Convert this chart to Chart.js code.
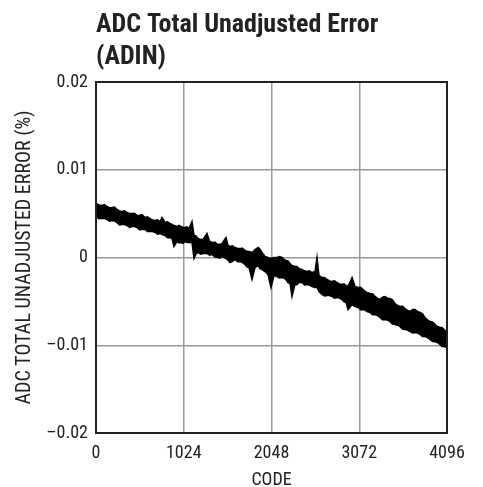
<!DOCTYPE html>
<html>
<head>
<meta charset="utf-8">
<script src="https://cdn.jsdelivr.net/npm/chart.js@4.4.1/dist/chart.umd.min.js"></script>
<style>
  html, body { margin: 0; padding: 0; background: #fff; }
  #wrap { position: relative; width: 483px; height: 487px; }
</style>
</head>
<body>
<div id="wrap"><canvas id="tueChart" width="483" height="487"></canvas></div>
<script>
const codes = [
  0, 35, 70, 99, 128, 158, 187, 216, 245, 274,
  303, 333, 362, 391, 420, 449, 478, 508, 537, 572,
  601, 630, 660, 689, 718, 747, 770, 805, 835, 864,
  887, 910, 945, 968, 992, 1015, 1039, 1062, 1085, 1120,
  1144, 1167, 1190, 1220, 1249, 1295, 1325, 1354, 1389, 1424,
  1447, 1470, 1517, 1540, 1564, 1593, 1622, 1651, 1680, 1710,
  1739, 1762, 1786, 1821, 1856, 1891, 1914, 1937, 1972, 2007,
  2042, 2077, 2112, 2141, 2171, 2194, 2217, 2240, 2264, 2287,
  2322, 2345, 2369, 2404, 2433, 2462, 2491, 2521, 2556, 2579,
  2602, 2637, 2666, 2696, 2725, 2754, 2783, 2812, 2841, 2871,
  2894, 2918, 2941, 2988, 3023, 3058, 3087, 3116, 3140, 3163,
  3198, 3227, 3256, 3285, 3314, 3343, 3373, 3402, 3431, 3460,
  3489, 3518, 3548, 3577, 3606, 3635, 3664, 3693, 3723, 3752,
  3781, 3810, 3839, 3868, 3898, 3927, 3956, 3985, 4014, 4037,
  4061, 4096
];
// upper edge of the error trace (%)
const errorHigh = [
  0.00615, 0.00599, 0.00593, 0.00602, 0.00581, 0.00568, 0.00570, 0.00574, 0.00547, 0.00530,
  0.00524, 0.00533, 0.00513, 0.00502, 0.00501, 0.00505, 0.00479, 0.00481, 0.00490, 0.00456,
  0.00464, 0.00444, 0.00427, 0.00422, 0.00430, 0.00410, 0.00456, 0.00399, 0.00406, 0.00387,
  0.00376, 0.00365, 0.00353, 0.00367, 0.00353, 0.00343, 0.00342, 0.00350, 0.00330, 0.00410,
  0.00251, 0.00246, 0.00217, 0.00205, 0.00205, 0.00274, 0.00185, 0.00171, 0.00174, 0.00148,
  0.00150, 0.00160, 0.00228, 0.00140, 0.00125, 0.00134, 0.00114, 0.00103, 0.00103, 0.00105,
  0.00080, 0.00070, 0.00068, 0.00057, 0.00091, 0.00114, 0.00095, 0.00057, 0.00011, 0,
  -0.00011, 0, 0, 0.00012, 0, -0.00022, -0.00034, -0.00038, -0.00068, -0.00091,
  -0.00103, -0.00102, -0.00125, -0.00137, -0.00152, -0.00160, -0.00151, -0.00171, -0.00160, 0,
  -0.00205, -0.00228, -0.00227, -0.00251, -0.00267, -0.00274, -0.00266, -0.00285, -0.00301, -0.00308,
  -0.00300, -0.00319, -0.00330, -0.00228, -0.00330, -0.00342, -0.00340, -0.00365, -0.00386, -0.00399,
  -0.00410, -0.00413, -0.00444, -0.00465, -0.00479, -0.00451, -0.00444, -0.00463, -0.00467, -0.00482,
  -0.00524, -0.00545, -0.00558, -0.00557, -0.00581, -0.00603, -0.00615, -0.00592, -0.00593, -0.00616,
  -0.00627, -0.00642, -0.00684, -0.00710, -0.00729, -0.00734, -0.00764, -0.00786, -0.00798, -0.00797,
  -0.00821, -0.00855
];
// lower edge of the error trace (%)
const errorLow = [
  0.00467, 0.00441, 0.00444, 0.00444, 0.00433, 0.00413, 0.00422, 0.00415, 0.00399, 0.00372,
  0.00376, 0.00376, 0.00365, 0.00343, 0.00353, 0.00352, 0.00342, 0.00316, 0.00319, 0.00319,
  0.00296, 0.00296, 0.00296, 0.00285, 0.00265, 0.00274, 0.00262, 0.00251, 0.00226, 0.00228,
  0.00215, 0.00125, 0.00182, 0.00165, 0.00171, 0.00160, 0.00182, 0.00172, 0.00171, 0.00171,
  -0.00011, 0.00040, 0.00057, 0.00037, 0.00046, 0.00046, 0.00026, 0.00034, 0.00005, 0,
  -0.00008, 0.00011, -0.00011, -0.00029, -0.00057, -0.00045, -0.00023, -0.00048, -0.00046, -0.00058,
  -0.00080, -0.00110, -0.00114, -0.00251, -0.00114, -0.00091, -0.00126, -0.00137, -0.00160, -0.00194,
  -0.00342, -0.00205, -0.00217, -0.00234, -0.00228, -0.00235, -0.00251, -0.00286, -0.00296, -0.00444,
  -0.00308, -0.00310, -0.00285, -0.00285, -0.00312, -0.00308, -0.00314, -0.00330, -0.00342, -0.00342,
  -0.00387, -0.00422, -0.00439, -0.00433, -0.00434, -0.00444, -0.00463, -0.00456, -0.00463, -0.00479,
  -0.00506, -0.00513, -0.00593, -0.00536, -0.00558, -0.00570, -0.00594, -0.00593, -0.00599, -0.00615,
  -0.00627, -0.00651, -0.00650, -0.00662, -0.00684, -0.00709, -0.00707, -0.00714, -0.00729, -0.00759,
  -0.00764, -0.00771, -0.00786, -0.00816, -0.00821, -0.00827, -0.00843, -0.00861, -0.00855, -0.00861,
  -0.00877, -0.00901, -0.00900, -0.00913, -0.00934, -0.00957, -0.00957, -0.00970, -0.00991, -0.01014,
  -0.01014, -0.01026
];
const xTicks = [0, 1024, 2048, 3072, 4096];
const yTicks = [-0.02, -0.01, 0, 0.01, 0.02];

const narrow = '"Liberation Sans Narrow", "Arial Narrow", "Roboto Condensed", sans-serif';

function fmtY(v) {
  if (Math.abs(v) < 1e-9) return '0';
  const s = Math.abs(v).toFixed(2);
  return v < 0 ? '\u2013' + s : s;
}

function initChart() {
  const ctx = document.getElementById('tueChart');
  if (!ctx) return;

  Chart.defaults.font.family = narrow;
  Chart.defaults.color = '#222';

  new Chart(ctx.getContext('2d'), {
    type: 'line',
    data: {
      datasets: [
        {
          data: codes.map((c, i) => ({ x: c, y: errorHigh[i] })),
          borderColor: '#000', backgroundColor: '#000', borderWidth: 1.5,
          pointRadius: 0, tension: 0, fill: '+1'
        },
        {
          data: codes.map((c, i) => ({ x: c, y: errorLow[i] })),
          borderColor: '#000', borderWidth: 1.5,
          pointRadius: 0, tension: 0, fill: false
        }
      ]
    },
    options: {
      responsive: false,
      animation: false,
      layout: { padding: { left: 0, right: 36, top: 0, bottom: 0 } },
      plugins: {
        legend: { display: false },
        tooltip: { enabled: false },
        title: {
          display: true,
          text: ['ADC Total Unadjusted Error', '(ADIN)'],
          align: 'start',
          fullSize: false,
          color: '#222',
          font: { family: narrow, size: 26, weight: 'bold', lineHeight: 1.25 },
          padding: { top: 9, bottom: 8 }
        }
      },
      scales: {
        x: {
          type: 'linear', min: 0, max: 4096,
          afterBuildTicks: s => { s.ticks = xTicks.map(v => ({ value: v })); },
          afterFit: s => { s.height = 54; },
          grid: { color: '#999', lineWidth: 1.5, drawTicks: false },
          border: { color: '#222', width: 2 },
          ticks: { font: { size: 18 }, padding: 10, maxRotation: 0, callback: v => String(v) },
          title: { display: true, text: 'CODE', font: { size: 18 }, padding: { top: 0, bottom: -4 } }
        },
        y: {
          type: 'linear', min: -0.02, max: 0.02,
          afterBuildTicks: s => { s.ticks = yTicks.map(v => ({ value: v })); },
          afterFit: s => { s.width = 96; },
          grid: { color: '#999', lineWidth: 1.5, drawTicks: false },
          border: { color: '#222', width: 2 },
          ticks: { font: { size: 18 }, padding: 8, callback: v => fmtY(v) },
          title: { display: true, text: 'ADC TOTAL UNADJUSTED ERROR (%)', font: { size: 20 }, padding: { top: 13, bottom: 0 } }
        }
      }
    },
    plugins: [{
      id: 'frame',
      afterDraw(chart) {
        const a = chart.chartArea, c = chart.ctx;
        c.save();
        c.strokeStyle = '#222';
        c.lineWidth = 2;
        c.strokeRect(a.left, a.top, a.right - a.left, a.bottom - a.top);
        c.restore();
      }
    }]
  });
}

initChart();
</script>
</body>
</html>
